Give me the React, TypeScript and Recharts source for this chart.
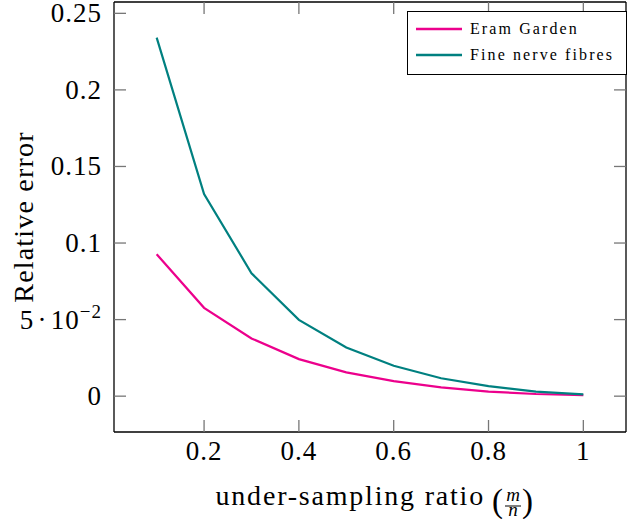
import { LineChart, Line, XAxis, YAxis, Legend } from "recharts";

const ratios = [0.1, 0.2, 0.3, 0.4, 0.5, 0.6, 0.7, 0.8, 0.9, 1.0];
const eramGarden = [0.0927, 0.0577, 0.0377, 0.0242, 0.0155, 0.0098, 0.0057, 0.003, 0.0014, 0.0007];
const fineNerveFibres = [0.2341, 0.132, 0.0803, 0.0498, 0.0318, 0.0199, 0.0117, 0.0066, 0.003, 0.0012];

const xTicks = [0.2, 0.4, 0.6, 0.8, 1];
const xTickLabels = ["0.2", "0.4", "0.6", "0.8", "1"];
const yTicks = [0, 0.05, 0.1, 0.15, 0.2, 0.25];
const yTickLabels = ["0", "5·10^−2", "0.1", "0.15", "0.2", "0.25"];

const seriesNames = ["Eram Garden", "Fine nerve fibres"];
const seriesColors = ["#ec008c", "#008080"];

const data = ratios.map((r, i) => ({
  ratio: r,
  eram: eramGarden[i],
  fine: fineNerveFibres[i],
}));

const FONT = "Liberation Serif";
const TICK_COLOR = "#777";
// negative size makes the tick marks point into the plot, like pgfplots
const TICK_LEN = -12;
const tickLineStyle = { stroke: TICK_COLOR, strokeWidth: 1.3 };
const axisLineStyle = { stroke: "#000", strokeWidth: 1.3 };

const BottomTick = (props: any) => {
  const { x, y, payload, index } = props;
  const i = xTicks.indexOf(payload.value);
  return (
    <text x={x} y={y + 28} textAnchor="middle" fontFamily={FONT} fontSize={27} letterSpacing={1} fill="#000">
      {xTickLabels[i >= 0 ? i : index]}
    </text>
  );
};

const NoLabel = () => <g />;

const LeftTick = (props: any) => {
  const { x, y, payload, index } = props;
  const i = yTicks.indexOf(payload.value);
  const label = yTickLabels[i >= 0 ? i : index];
  const [base, sup] = label.split("^");
  return (
    <text x={x - 12} y={y + 9} textAnchor="end" fontFamily={FONT} fontSize={27} letterSpacing={1} fill="#000">
      {sup ? (
        <>
          <tspan>{base.replace("·", "\u200a·\u200a")}</tspan>
          <tspan dy={-11} fontSize={19}>{sup}</tspan>
        </>
      ) : (
        base
      )}
    </text>
  );
};

const XLabel = (props: any) => {
  const vb = props.viewBox || { x: 114, y: 432, width: 512, height: 87 };
  const cx = vb.x + vb.width / 2;
  const base = vb.y + 73;
  const fx = cx + 143;
  return (
    <g fontFamily={FONT} fill="#000">
      <text x={cx + 115} y={base} textAnchor="end" fontSize={28} letterSpacing={1.8}>
        under-sampling ratio
      </text>
      <text x={cx + 122} y={base + 7} fontSize={33}>(</text>
      <text x={fx} y={base - 4} textAnchor="middle" fontSize={19} fontStyle="italic">m</text>
      <line x1={fx - 8} x2={fx + 8} y1={base + 1} y2={base + 1} stroke="#000" strokeWidth={1} />
      <text x={fx} y={base + 11} textAnchor="middle" fontSize={19} fontStyle="italic">n</text>
      <text x={cx + 152} y={base + 7} fontSize={33}>)</text>
    </g>
  );
};

const YLabel = (props: any) => {
  const vb = props.viewBox || { x: 0, y: 2, width: 114, height: 430 };
  const cy = vb.y + vb.height / 2;
  const bx = 33;
  return (
    <text
      x={bx}
      y={cy}
      transform={`rotate(-90, ${bx}, ${cy})`}
      textAnchor="middle"
      fontFamily={FONT}
      fontSize={28}
      letterSpacing={1.2}
      fill="#000"
    >
      Relative error
    </text>
  );
};

const LegendBox = (props: any) => {
  const payload = props.payload || [];
  return (
    <div
      style={{
        boxSizing: "border-box",
        width: 220,
        height: 64,
        border: "1px solid #000",
        background: "#fff",
        paddingTop: 4,
      }}
    >
      {payload.map((p: any) => (
        <div key={p.value} style={{ display: "flex", alignItems: "center", height: 26 }}>
          <svg width={62} height={26} style={{ display: "block" }}>
            <line x1={8} x2={54} y1={13} y2={13} stroke={p.color} strokeWidth={2.4} />
          </svg>
          <span style={{ fontFamily: FONT, fontSize: 16, letterSpacing: 2.1, color: "#000", lineHeight: "26px" }}>
            {p.value}
          </span>
        </div>
      ))}
    </div>
  );
};

export default function App() {
  return (
    <div style={{ position: "absolute", left: 0, top: 0, background: "#fff" }}>
      <LineChart width={627} height={519} data={data} margin={{ top: 1, right: 0, left: 0, bottom: 0 }}>
        <XAxis
          dataKey="ratio"
          type="number"
          domain={[0.01, 1.09]}
          allowDataOverflow
          ticks={xTicks}
          interval={0}
          height={87}
          tickSize={TICK_LEN}
          tickMargin={-TICK_LEN}
          tickLine={tickLineStyle}
          axisLine={axisLineStyle}
          tick={<BottomTick />}
          label={XLabel}
        />
        <XAxis
          xAxisId="top"
          orientation="top"
          dataKey="ratio"
          type="number"
          domain={[0.01, 1.09]}
          allowDataOverflow
          ticks={xTicks}
          interval={0}
          height={1}
          tickSize={TICK_LEN}
          tickMargin={0}
          tickLine={tickLineStyle}
          axisLine={axisLineStyle}
          tick={<NoLabel />}
        />
        <YAxis
          type="number"
          domain={[-0.0234, 0.2574]}
          allowDataOverflow
          ticks={yTicks}
          interval={0}
          width={114}
          tickSize={TICK_LEN}
          tickMargin={-TICK_LEN}
          tickLine={tickLineStyle}
          axisLine={axisLineStyle}
          tick={<LeftTick />}
          label={YLabel}
        />
        <YAxis
          yAxisId="right"
          orientation="right"
          type="number"
          domain={[-0.0234, 0.2574]}
          allowDataOverflow
          ticks={yTicks}
          interval={0}
          width={1}
          tickSize={TICK_LEN}
          tickMargin={0}
          tickLine={tickLineStyle}
          axisLine={axisLineStyle}
          tick={<NoLabel />}
        />
        <Legend
          layout="vertical"
          align="center"
          verticalAlign="middle"
          content={<LegendBox />}
          wrapperStyle={{ top: 11, left: 407, width: 220, height: 64 }}
        />
        <Line
          name={seriesNames[0]}
          dataKey="eram"
          type="linear"
          stroke={seriesColors[0]}
          strokeWidth={2.2}
          dot={false}
          isAnimationActive={false}
        />
        <Line
          name={seriesNames[1]}
          dataKey="fine"
          type="linear"
          stroke={seriesColors[1]}
          strokeWidth={2.2}
          dot={false}
          isAnimationActive={false}
        />
      </LineChart>
    </div>
  );
}
